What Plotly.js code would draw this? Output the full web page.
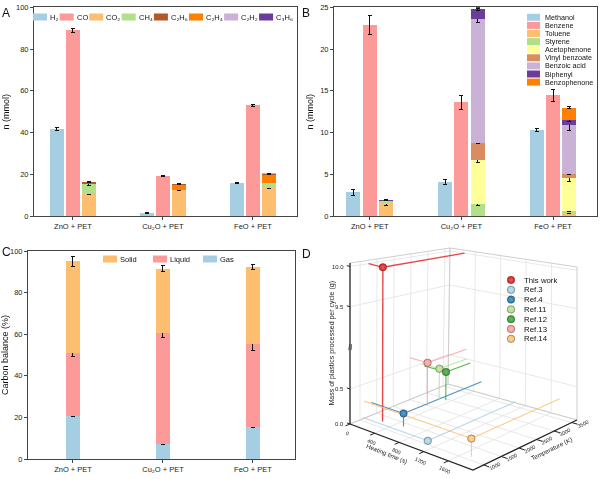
<!DOCTYPE html>
<html><head><meta charset="utf-8">
<script src="https://cdn.plot.ly/plotly-3.0.1.min.js"></script>
<style>html,body{margin:0;padding:0;background:#fff}#chart{width:600px;height:479px}</style>
</head><body><div id="chart"></div>
<script>
// ---------- DATA ----------
const categories = ['ZnO + PET', 'Cu₂O + PET', 'FeO + PET'];

// Panel A (gas products, mmol)
const gasNames = ['H₂','CO','CO₂','CH₄','C₂H₆','C₂H₄','C₂H₂','C₃H₆'];
const h2 = [41.8, 1.4, 15.8];        const h2Err = [0.6, 0.1, 0.15];
const co = [88.9, 19.3, 53.0];       const coErr = [0.9, 0.25, 0.4];
const co2 = [10.7, 12.5, 13.3];      const co2Err = [0.3, 0.4, 0.25];
const ch4 = [4.4, 0.2, 2.7];         const ch4Err = [0.3, null, 0.15];
const c2h4 = [0.4, 2.3, 3.8];        const c2h4Err = [null, null, null];
const c2h6 = [0.7, 0.3, 0.4];        const c2h6Err = [0.2, 0.1, 0.2];
const c2h2 = [0.1, 0, 0.2];          const c2h2Err = [null, null, null];
const c3h6 = [0, 0, 0];              const c3h6Err = [null, null, null];

// Panel B (liquid products, mmol)
const liqNames = ['Methanol','Benzene','Toluene','Styrene','Acetophenone','Vinyl benzoate','Benzoic acid','Biphenyl','Benzophenone'];
const methanol = [2.85, 4.05, 10.3];     const methanolErr = [0.35, 0.3, 0.2];
const benzene = [22.85, 13.6, 14.45];    const benzeneErr = [1.15, 0.8, 0.75];
const toluene = [1.4, 0, 0.32];          const tolueneErr = [0.1, null, null];
const styrene = [0.45, 1.4, 0.25];       const styreneErr = [null, 0.1, 0.05];
const acetophenone = [0, 5.3, 3.95];     const acetophenoneErr = [null, 0.35, 0.35];
const vinylBenzoate = [0, 2.1, 0.5];     const vinylBenzoateErr = [null, 0.08, 0.1];
const benzoicAcid = [0, 14.8, 5.9];      const benzoicAcidErr = [null, 0.4, 0.7];
const biphenyl = [0.08, 1.2, 0.55];      const biphenylErr = [0.05, 0.15, 0.1];
const benzophenone = [0, 0, 1.5];        const benzophenoneErr = [null, null, 0.1];

// Panel C (carbon balance, %)
const phaseNames = ['Solid','Liquid','Gas'];
const gasPct = [20.7, 7.2, 15.2];        const gasPctErr = [0.3, 0.2, 0.2];
const liquidPct = [30.2, 53.6, 39.9];    const liquidPctErr = [1.5, 2.5, 3.0];
const solidPct = [44.1, 30.7, 37.2];     const solidPctErr = [2.5, 1.5, 1.0];

// Panel D (comparison)
const refNames = ['This work','Ref.3','Ref.4','Ref.11','Ref.12','Ref.13','Ref.14'];
const heatTime = [230, 1050, 516, 278, 340, 278, 1732];          // s
const temperature = [1250, 1085, 1345, 2850, 2930, 2495, 1125];  // K
const massPerCycle = [10.0, 0.02, 0.19, 0.50, 0.45, 0.66, 0.25]; // g
const timeTicks = [0, 400, 800, 1200, 1600];
const tempTicks = [1000, 1500, 2000, 2500, 3000, 3500];
const massTicks = [0.0, 0.5, 9.5, 10.0];

// ---------- STYLE ----------
const C = {lb:'#a6cee3', pk:'#fb9a99', or:'#fdbf6f', gr:'#b2df8a', br:'#b15928', dor:'#ff7f00', lv:'#cab2d6', pu:'#6a3d9a', ye:'#ffff99', vb:'#d98c5f'};
const gasColors = [C.lb, C.pk, C.or, C.gr, C.br, C.dor, C.lv, C.pu];
const liqColors = [C.lb, C.pk, C.or, C.gr, C.ye, C.vb, C.lv, C.pu, C.dor];
const phaseColors = [C.or, C.pk, C.lb];
const refColors = ['#e31a1c', '#a6cee3', '#1f78b4', '#b2df8a', '#33a02c', '#fb9a99', '#fdbf6f'];
const FONT = 'Liberation Sans, Arial, DejaVu Sans, sans-serif';
const W = 600, H = 479;
const px = x => x / W, py = y => 1 - y / H;
const OFF = 0.178, BW = 0.152;
function tint(hex, f) {
  const n = parseInt(hex.slice(1), 16), c = [n >> 16, (n >> 8) & 255, n & 255].map(v => Math.round(v + (255 - v) * f));
  return 'rgb(' + c.join(',') + ')';
}

function bar(x, y, err, color, xa, ya, name) {
  return {type:'bar', x:x, y:y, width:BW, name:name, showlegend:false, xaxis:xa, yaxis:ya,
    marker:{color:color, line:{width:0}},
    error_y:{type:'data', array:err, visible:true, color:'#111', thickness:1, width:2}};
}
const idx = categories.map((_, i) => i);
const xL = idx.map(i => i - OFF), xM = idx, xR = idx.map(i => i + OFF);

const traces = [];
// Panel A
traces.push(bar(xL, h2, h2Err, gasColors[0], 'x', 'y', 'H2'));
traces.push(bar(xM, co, coErr, gasColors[1], 'x', 'y', 'CO'));
[[co2,co2Err,2],[ch4,ch4Err,3],[c2h4,c2h4Err,5],[c2h6,c2h6Err,4],[c2h2,c2h2Err,6],[c3h6,c3h6Err,7]]
  .forEach(([v,e,k]) => traces.push(bar(xR, v, e, gasColors[k], 'x', 'y', gasNames[k])));
// Panel B
traces.push(bar(xL, methanol, methanolErr, liqColors[0], 'x2', 'y2', 'Methanol'));
traces.push(bar(xM, benzene, benzeneErr, liqColors[1], 'x2', 'y2', 'Benzene'));
[[toluene,tolueneErr],[styrene,styreneErr],[acetophenone,acetophenoneErr],[vinylBenzoate,vinylBenzoateErr],
 [benzoicAcid,benzoicAcidErr],[biphenyl,biphenylErr],[benzophenone,benzophenoneErr]]
  .forEach(([v,e],j) => traces.push(bar(xR, v, e, liqColors[j+2], 'x2', 'y2', liqNames[j+2])));
// Panel C
traces.push(bar(xM, gasPct, gasPctErr, phaseColors[2], 'x3', 'y3', 'Gas'));
traces.push(bar(xM, liquidPct, liquidPctErr, phaseColors[1], 'x3', 'y3', 'Liquid'));
traces.push(bar(xM, solidPct, solidPctErr, phaseColors[0], 'x3', 'y3', 'Solid'));

// ---------- Panel D: 3D box projected on a 2D pixel axis (WebGL-free) ----------
const T0 = 0, T1 = 2000, K0 = 700, K1 = 3650;
const BREAK_LO = 1.1, BREAK_HI = 9.0, UP = 1.15, ZMAX = 2.3;
const zd = m => m <= BREAK_LO ? m : BREAK_LO + (m - BREAK_HI) * UP;   // broken mass axis
// box corners on screen (u=time frac, v=temp frac): (0,0),(1,0),(1,1),(0,1)
const FLOOR = [[350,424],[473,470],[577,420],[448,384]];
const TOP   = [[350,263],[473,298],[577,267],[450,248]];
function bil(c, u, v) {
  return [0,1].map(j => (1-u)*(1-v)*c[0][j] + u*(1-v)*c[1][j] + u*v*c[2][j] + (1-u)*v*c[3][j]);
}
function projD(t, k, d) {
  const u = (t - T0) / (T1 - T0), v = (k - K0) / (K1 - K0), w = d / ZMAX;
  const a = bil(FLOOR, u, v), b = bil(TOP, u, v);
  return [a[0] + (b[0] - a[0]) * w, a[1] + (b[1] - a[1]) * w];
}
function segs(list) {
  const x = [], y = [];
  list.forEach(s => { s.forEach(p => { const q = projD(p[0], p[1], p[2]); x.push(q[0]); y.push(q[1]); }); x.push(null); y.push(null); });
  return {x, y};
}
function lineTrace(list, color, width, opacity) {
  const s = segs(list);
  return {type:'scatter', mode:'lines', x:s.x, y:s.y, xaxis:'x4', yaxis:'y4', showlegend:false, hoverinfo:'skip',
    line:{color:color, width:width}, opacity:opacity || 1, cliponaxis:false};
}
const zT = massTicks.map(zd);
const grid = [];
timeTicks.forEach(t => { grid.push([[t,K0,0],[t,K1,0]]); grid.push([[t,K1,0],[t,K1,ZMAX]]); });
tempTicks.forEach(k => { grid.push([[T0,k,0],[T1,k,0]]); grid.push([[T0,k,0],[T0,k,ZMAX]]); });
zT.forEach(d => { grid.push([[T0,K0,d],[T0,K1,d],[T1,K1,d]]); });
traces.push(lineTrace(grid, '#e2e2e2', 0.8));
traces.push(lineTrace([[[T0,K0,ZMAX],[T0,K1,ZMAX],[T1,K1,ZMAX]], [[T0,K1,0],[T0,K1,ZMAX]], [[T1,K1,0],[T1,K1,ZMAX]],
  [[T0,K1,0],[T1,K1,0]], [[T0,K0,0],[T0,K1,0]]], '#c8c8c8', 0.9));
traces.push(lineTrace([[[T0,K0,0],[T0,K0,ZMAX]], [[T0,K0,0],[T1,K0,0],[T1,K1,0]]], '#222', 1.3));
// tick marks
const tickSegs = [];
zT.forEach(d => tickSegs.push([[T0,K0,d],[T0 - 0.025*(T1-T0),K0,d]]));
timeTicks.forEach(t => tickSegs.push([[t,K0,0],[t,K0 - 0.045*(K1-K0),0]]));
tempTicks.forEach(k => tickSegs.push([[T1,k,0],[T1 + 0.045*(T1-T0),k,0]]));
traces.push(lineTrace(tickSegs, '#222', 1));

// data: drop lines + spheres
refNames.forEach((n, i) => {
  const t = heatTime[i], k = temperature[i], d = zd(massPerCycle[i]);
  traces.push(lineTrace([[[t,k,0],[t,k,d]], [[t,k,d],[T0,k,d]], [[t,k,d],[t,K1,d]]], refColors[i], i === 0 ? 1.4 : 1.1, 0.8));
});
const ballMarker = cols => ({size:7.5, color:cols, gradient:{type:'radial', color:(Array.isArray(cols) ? cols : [cols]).map(c => tint(c, 0.3))},
  line:{color:'rgba(50,50,50,0.7)', width:0.6}});
refNames.forEach((n, i) => {
  const q = projD(heatTime[i], temperature[i], zd(massPerCycle[i]));
  const m = ballMarker(refColors[i]); m.gradient.color = m.gradient.color[0];
  traces.push({type:'scatter', mode:'markers', name:n, x:[q[0]], y:[q[1]], xaxis:'x4', yaxis:'y4', showlegend:false,
    cliponaxis:false, marker:m});
});

// ---------- LEGENDS & LABELS (layout decorations) ----------
const shapes = [], annotations = [];
const cvs = document.createElement('canvas').getContext('2d');
function tw(t, s) { cvs.font = s + 'px "Liberation Sans"'; return cvs.measureText(t).width; }
function label(x, y, t, s, anchor) {
  annotations.push({xref:'paper', yref:'paper', x:px(x), y:py(y), text:t, showarrow:false,
    xanchor:anchor || 'left', yanchor:'middle', font:{size:s, family:FONT, color:'#111'}, borderpad:0});
}
function swatch(x, y, w, h, c) {
  shapes.push({type:'rect', xref:'paper', yref:'paper', x0:px(x), x1:px(x + w), y0:py(y + h/2), y1:py(y - h/2),
    fillcolor:c, line:{width:0}});
}
function hLegend(names, colors, x0, x1, yc, s, sw, step) {
  const g = 2;
  const widths = names.map(n => tw(n, s));
  let gap = 0;
  if (!step) gap = (x1 - x0 - names.length * (sw + g) - widths.reduce((a, b) => a + b, 0)) / (names.length - 1);
  let x = x0;
  names.forEach((n, i) => {
    swatch(x, yc, sw, 7, colors[i]);
    label(x + sw + g, yc, n, s);
    x += step ? step : (sw + g + widths[i] + gap);
  });
}
hLegend(gasNames, gasColors, 33, 292, 17, 7.5, 14);
hLegend(phaseNames, phaseColors, 103, 0, 259, 7.5, 14, 50);
liqNames.forEach((n, i) => { const y = 17.3 + i * 8.1; swatch(527, y, 13, 7, liqColors[i]); label(544, y, n, 7.2); });
// D legend
const legY = refNames.map((_, i) => 280 + i * 9.8);
traces.push({type:'scatter', mode:'markers', x:refNames.map(() => 511), y:legY, xaxis:'x4', yaxis:'y4', showlegend:false,
  hoverinfo:'skip', marker:ballMarker(refColors)});
refNames.forEach((n, i) => label(523, legY[i], n, 7.8));
// panel letters
[['A', 1, 13], ['B', 301, 13], ['C', 1, 252], ['D', 301, 254]].forEach(([t, x, y]) => label(x, y, t, 12));

// 3D axis labels (in pixel axis x4/y4)
function a4(q, text, size, opts) {
  annotations.push(Object.assign({xref:'x4', yref:'y4', x:q[0], y:q[1], text:text, showarrow:false,
    font:{size:size, family:FONT, color:'#222'}, borderpad:0}, opts || {}));
}
massTicks.forEach((m, i) => a4(projD(T0, K0, zT[i]), m.toFixed(1), 6, {xanchor:'right', xshift:-5}));
timeTicks.forEach(t => a4(projD(t, K0, 0), String(t), 5.2, {textangle:25, xshift:-3, yshift:-9}));
tempTicks.forEach(k => a4(projD(T1, k, 0), String(k), 5.2, {textangle:-27, xshift:11, yshift:-1}));
a4(projD(T0 + 0.3*(T1-T0), K0, 0), 'Heating time (s)', 6.2, {textangle:22, yshift:-16});
a4(projD(T1, K0 + 0.6*(K1-K0), 0), 'Temperature (K)', 6.2, {textangle:-26, xshift:16, yshift:-8});
a4(projD(T0, K0, ZMAX*0.5), 'Mass of plastics processed per cycle (g)', 7, {textangle:-90, xshift:-19});
a4(projD(T0, K0, BREAK_LO), '//', 8, {textangle:-10});

// ---------- AXES ----------
const yAx = (dom, range, dtick, title) => ({domain:dom, range:range, dtick:dtick, ticks:'outside', ticklen:3,
  tickfont:{size:7.5, family:FONT, color:'#222'}, showline:true, mirror:true, linecolor:'#444', linewidth:1,
  showgrid:false, zeroline:false, title:{text:title, font:{size:9, family:FONT, color:'#111'}, standoff:4}});
const xAx = (dom, range, anchor) => ({domain:dom, range:range, anchor:anchor, tickvals:idx, ticktext:categories,
  ticks:'outside', ticklen:3, tickfont:{size:7.5, family:FONT, color:'#222'}, showline:true, mirror:true,
  linecolor:'#444', linewidth:1, showgrid:false, zeroline:false});

const layout = {
  width:W, height:H, margin:{l:0, r:0, t:0, b:0}, paper_bgcolor:'#fff', plot_bgcolor:'#fff',
  barmode:'stack', showlegend:false, font:{family:FONT},
  xaxis: xAx([34/W, 297/W], [-0.433, 2.49], 'y'),
  yaxis: yAx([1 - 216/H, 1 - 7.3/H], [0, 100], 20, 'n (mmol)'),
  xaxis2: xAx([334/W, 597/W], [-0.39, 2.48], 'y2'),
  yaxis2: Object.assign(yAx([1 - 216/H, 1 - 7.3/H], [0, 25], 5, 'n (mmol)'), {anchor:'x2'}),
  xaxis3: xAx([28/W, 295/W], [-0.5, 2.467], 'y3'),
  yaxis3: Object.assign(yAx([1 - 459/H, 1 - 251/H], [0, 100], 20, 'Carbon balance (%)'), {anchor:'x3'}),
  xaxis4: {domain:[300/W, 1], range:[300, 600], visible:false, anchor:'y4', fixedrange:true},
  yaxis4: {domain:[0, 1 - 240/H], range:[479, 240], visible:false, anchor:'x4', fixedrange:true},
  shapes:shapes, annotations:annotations
};
Plotly.newPlot('chart', traces, layout, {staticPlot:true, displayModeBar:false});
</script></body></html>
